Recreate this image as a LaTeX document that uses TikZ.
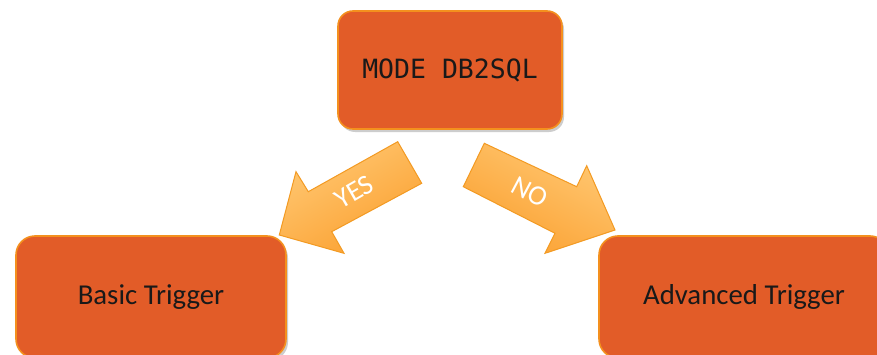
\documentclass[tikz,border=0pt]{standalone}
\usepackage{fontspec}
\newfontfamily\calibri{Carlito}
\newfontfamily\monof{DejaVu Sans Mono}
\usetikzlibrary{shadows}
\definecolor{boxfill}{HTML}{E25C28}
\definecolor{boxline}{HTML}{F4901E}
\definecolor{arrlight}{HTML}{FFC873}
\definecolor{arrdark}{HTML}{FBA030}
\definecolor{arrline}{HTML}{F39A22}
\tikzset{
  softshadow/.style={drop shadow={shadow xshift=2pt, shadow yshift=-3pt, opacity=0.28, fill=black!70}},
  box/.style={rectangle, draw=boxline, line width=1.6pt, fill=boxfill, inner sep=0pt,
    text=black!90, softshadow},
  blockarrow/.style={draw=arrline, line width=1pt, line join=miter, top color=arrlight, bottom color=arrdark},
  arrlabel/.style={text=white, font=\calibri\fontsize{28}{32}\selectfont, inner sep=0pt}
}
\begin{document}
\begin{tikzpicture}[x=1pt,y=1pt]
\useasboundingbox (0,0) rectangle (877,354);
\clip (0,0) rectangle (877,354);
\fill[white] (0,0) rectangle (877,354);
% boxes
\node[box, rounded corners=15pt, minimum width=224pt, minimum height=118pt,
  font=\monof\fontsize{26.5}{30}\selectfont] (top) at (450,284) {MODE DB2SQL};
\node[box, rounded corners=19pt, minimum width=270pt, minimum height=122pt,
  font=\calibri\fontsize{28.8}{32}\selectfont] (basic) at (151,57) {Basic Trigger};
\node[box, rounded corners=19pt, minimum width=290pt, minimum height=122pt,
  font=\calibri\fontsize{28.8}{32}\selectfont] (adv) at (744,57) {Advanced Trigger};
% YES arrow
\draw[blockarrow, shading angle=30] (397.7,212.3) -- (308.3,162.3) -- (296,182.3) -- (279.3,119)
  -- (344,100.7) -- (331.7,122.3) -- (421.7,170.7) -- cycle;
\node[arrlabel, rotate=30] (yes) at (354,162) {YES};
% NO arrow
\draw[blockarrow, shading angle=-28] (484.3,210.7) -- (576.7,167.3) -- (586.7,188.3) -- (615,124)
  -- (545,100.7) -- (555,120.7) -- (463.3,167.3) -- cycle;
\node[arrlabel, rotate=-28] (no) at (530,162) {NO};
\end{tikzpicture}
\end{document}
